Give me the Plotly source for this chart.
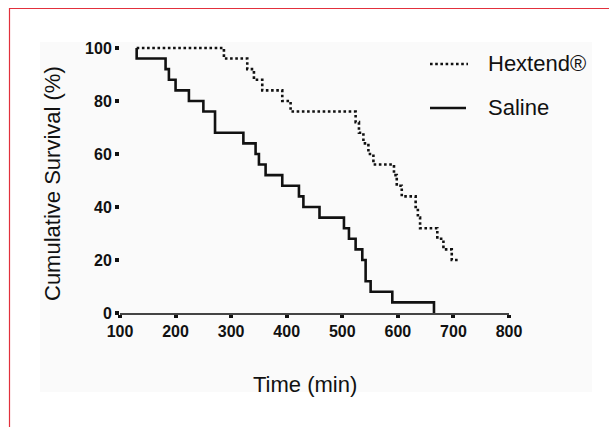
import plotly.graph_objects as go

# ---- data ----
hextend_time = [130, 287, 329, 341, 356, 392, 407, 524, 530, 538, 547, 556, 593, 598, 607, 632, 636, 640, 671, 682, 697, 712]
hextend_surv = [100, 96, 92, 88, 84, 80, 76, 72, 68, 64, 60, 56, 52, 48, 44, 40, 36, 32, 28, 24, 20, 20]

saline_time = [130, 130, 182, 188, 200, 224, 250, 271, 322, 344, 350, 362, 392, 422, 430, 459, 503, 512, 524, 536, 542, 551, 590, 665]
saline_surv = [100, 96, 92, 88, 84, 80, 76, 68, 64, 60, 56, 52, 48, 44, 40, 36, 32, 28, 24, 20, 12, 8, 4, 0]

x_ticks = [100, 200, 300, 400, 500, 600, 700, 800]
y_ticks = [0, 20, 40, 60, 80, 100]
series_names = ["Hextend®", "Saline"]

# ---- layout geometry ----
W, H = 609, 427
L, R, T, B = 120, 100, 40, 114
PW, PH = W - L - R, H - T - B
FONT = "Liberation Sans, Arial, sans-serif"


def px(xp):
    return (xp - L) / PW


def py(yp):
    return (H - B - yp) / PH


fig = go.Figure()
fig.add_trace(go.Scatter(x=hextend_time, y=hextend_surv, mode="lines", line_shape="hv",
                         line=dict(color="#111", width=2.6, dash="2.6px,2.6px"),
                         name=series_names[0], showlegend=False))
fig.add_trace(go.Scatter(x=saline_time, y=saline_surv, mode="lines", line_shape="hv",
                         line=dict(color="#111", width=2.6),
                         name=series_names[1], showlegend=False))

shapes = [
    # faint stippled background panel
    dict(type="rect", xref="paper", yref="paper", x0=px(40), x1=px(592), y0=py(392), y1=py(42),
         fillcolor="#fafafa", line=dict(width=0), layer="below"),
    # red frame (top and left)
    dict(type="line", xref="paper", yref="paper", x0=px(9), x1=px(612), y0=py(8.5), y1=py(8.5),
         line=dict(color="#e2303c", width=1.2)),
    dict(type="line", xref="paper", yref="paper", x0=px(9.5), x1=px(9.5), y0=py(8), y1=py(430),
         line=dict(color="#e2303c", width=1.2)),
    # legend samples
    dict(type="line", xref="paper", yref="paper", x0=px(430), x1=px(468), y0=py(64), y1=py(64),
         line=dict(color="#111", width=2.6, dash="2.6px,2.6px")),
    dict(type="line", xref="paper", yref="paper", x0=px(430), x1=px(466), y0=py(108), y1=py(108),
         line=dict(color="#111", width=2.6)),
]

annotations = [
    dict(text=series_names[0], xref="paper", yref="paper", x=px(486), y=py(63), xanchor="left",
         yanchor="middle", showarrow=False, font=dict(family=FONT, size=22, color="#111")),
    dict(text=series_names[1], xref="paper", yref="paper", x=px(486), y=py(107), xanchor="left",
         yanchor="middle", showarrow=False, font=dict(family=FONT, size=22, color="#111")),
    dict(text="Cumulative Survival (%)", xref="paper", yref="paper", x=px(52), y=py(184),
         xanchor="center", yanchor="middle", textangle=-90, showarrow=False,
         font=dict(family=FONT, size=22, color="#111")),
    dict(text="Time (min)", xref="paper", yref="paper", x=px(305), y=py(384),
         xanchor="center", yanchor="middle", showarrow=False,
         font=dict(family=FONT, size=22, color="#111")),
]

fig.update_layout(
    width=W, height=H,
    margin=dict(l=L, r=R, t=T, b=B, pad=0),
    paper_bgcolor="white", plot_bgcolor="rgba(0,0,0,0)",
    shapes=shapes, annotations=annotations, showlegend=False,
    xaxis=dict(range=[100, 800], tickvals=x_ticks, ticktext=[str(v) for v in x_ticks],
               showgrid=False, zeroline=False, showline=True, linecolor="#444", linewidth=2,
               ticks="outside", ticklen=3, tickwidth=4, tickcolor="#111",
               tickfont=dict(family=FONT, size=16, color="#111", weight="bold"), fixedrange=True),
    yaxis=dict(range=[0, 103], tickvals=y_ticks, ticktext=[str(v) for v in y_ticks],
               showgrid=False, zeroline=False, showline=False,
               ticks="outside", ticklen=4, tickwidth=4, tickcolor="#111",
               tickfont=dict(family=FONT, size=16, color="#111", weight="bold"), fixedrange=True),
)

fig.write_html("out.html", config={"displayModeBar": False})
